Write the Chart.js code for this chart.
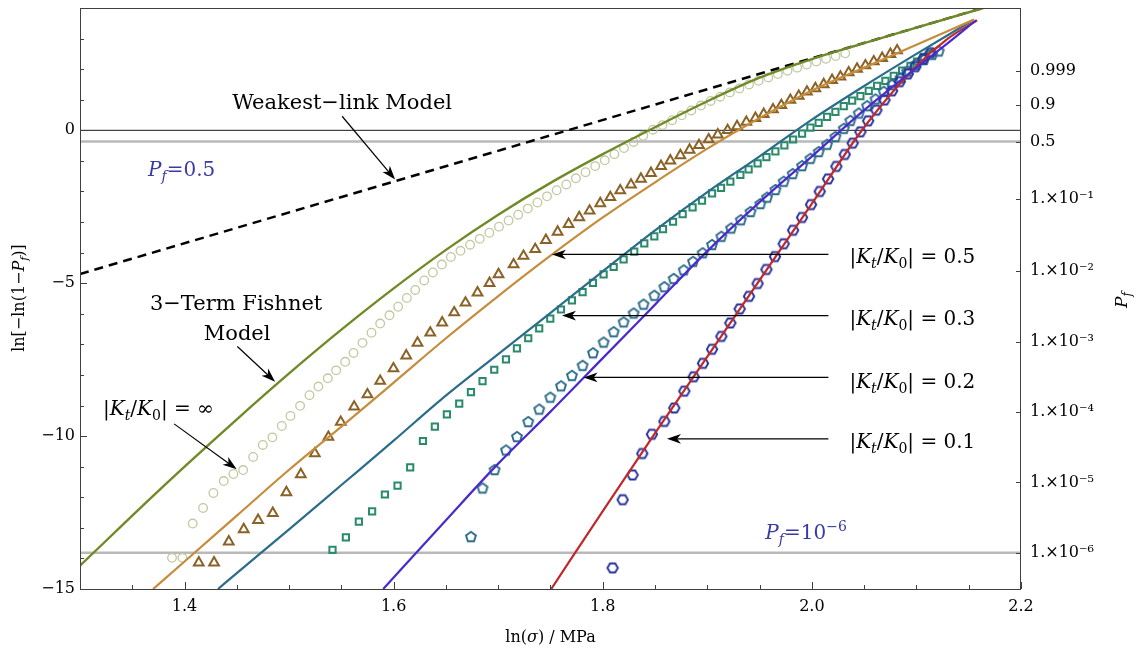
<!DOCTYPE html>
<html><head><meta charset="utf-8">
<script src="https://cdn.jsdelivr.net/npm/chart.js@4.4.1/dist/chart.umd.min.js"></script>
<style>html,body{margin:0;padding:0;background:#fff;}canvas{display:block}</style>
</head><body><canvas id="c" width="1138" height="651"></canvas>
<script>
// ---------- axes ----------
const xRange = [1.3, 2.2];
const yRange = [-15, 4];
const xMajorTicks = [1.4, 1.6, 1.8, 2.0, 2.2];
const yMajorTicks = [-15, -10, -5, 0];
const pfTicks = [1e-6, 1e-5, 1e-4, 1e-3, 1e-2, 1e-1, 0.5, 0.9, 0.999];
const pfTickLabels = ['1.×10⁻⁶','1.×10⁻⁵','1.×10⁻⁴','1.×10⁻³','1.×10⁻²','1.×10⁻¹','0.5','0.9','0.999'];
const pfRefLevels = [0.5, 1e-6];

// ---------- model curves ----------
const weakX = [1.3, 2.1635];
const weakY = [-4.7, 4.0];

const fish3X = [1.30,1.35,1.40,1.45,1.50,1.55,1.60,1.65,1.70,1.75,1.80,1.85,1.90,1.95,2.00,2.05,2.10,2.164];
const fish3Y = [-14.24,-12.6,-11.0,-9.45,-7.95,-6.52,-5.17,-3.91,-2.76,-1.72,-0.78,0.1,0.95,1.72,2.33,2.85,3.36,4.0];

const k05X = [1.3699,1.40,1.45,1.50,1.5552,1.60,1.65,1.70,1.75,1.80,1.85,1.90,1.95,2.00,2.05,2.10,2.155];
const k05Y = [-15,-14.1,-12.6,-11.1,-9.54,-8.25,-6.8,-5.42,-4.1,-2.85,-1.7,-0.6,0.4,1.3,2.05,2.8,3.62];

const k03X = [1.432,1.45,1.50,1.55,1.60,1.6445,1.70,1.75,1.80,1.85,1.90,1.95,2.00,2.05,2.10,2.155];
const k03Y = [-15,-14.48,-13.05,-11.6,-10.15,-8.83,-7.32,-5.97,-4.61,-3.27,-2.02,-0.85,0.35,1.45,2.5,3.62];

const k02X = [1.59,1.65,1.70,1.75,1.80,1.85,1.90,1.95,2.00,2.05,2.10,2.13,2.157];
const k02Y = [-15,-12.75,-10.9,-9.2,-7.45,-5.7,-3.95,-2.35,-0.85,0.66,2.05,2.85,3.6];

const k01X = [1.7507,1.80,1.85,1.90,1.95,2.00,2.05,2.10,2.13,2.158];
const k01Y = [-15,-12.45,-9.9,-7.4,-4.9,-2.4,0.1,2.1,3.0,3.6];

// ---------- simulation markers ----------
const infX = [1.388,1.398,1.4078,1.4177,1.4276,1.4375,1.4467,1.456,1.4656,1.4748,1.484,1.493,1.5013,1.5105,1.5195,1.528,1.537,1.545,1.5536,1.5616,1.5702,1.5788,1.5871,1.596,1.6043,1.6126,1.6206,1.6292,1.6375,1.6461,1.6547,1.6639,1.6731,1.6823,1.6915,1.7007,1.7099,1.7191,1.7283,1.7375,1.7467,1.7559,1.7651,1.7743,1.7835,1.7927,1.8019,1.8111,1.8203,1.8295,1.8387,1.8479,1.8571,1.8663,1.8755,1.8847,1.8939,1.9031,1.9123,1.9215,1.9307,1.9399,1.9491,1.9583,1.9675,1.9767,1.9859,1.9951,2.0043,2.0135,2.0227,2.0319];
const infY = [-13.98,-13.98,-12.86,-12.35,-11.86,-11.47,-11.24,-11.11,-10.68,-10.29,-10.04,-9.67,-9.34,-9.01,-8.66,-8.38,-8.11,-7.85,-7.57,-7.28,-6.95,-6.62,-6.32,-6.05,-5.77,-5.48,-5.22,-4.91,-4.65,-4.39,-4.14,-3.94,-3.74,-3.55,-3.35,-3.15,-2.95,-2.76,-2.56,-2.36,-2.16,-1.96,-1.77,-1.57,-1.37,-1.17,-0.98,-0.78,-0.58,-0.38,-0.18,0.02,0.17,0.33,0.49,0.65,0.81,0.96,1.10,1.24,1.37,1.50,1.62,1.73,1.84,1.95,2.05,2.15,2.25,2.34,2.43,2.52];

const t05X = [1.4136,1.4282,1.4423,1.4566,1.4703,1.4844,1.4974,1.5112,1.5246,1.5376,1.5494,1.5622,1.5749,1.5871,1.5998,1.612,1.6228,1.635,1.6464,1.6579,1.6687,1.6802,1.6917,1.7003,1.7147,1.7242,1.7354,1.7456,1.7568,1.7673,1.7775,1.7874,1.7976,1.8072,1.8167,1.827,1.8365,1.8461,1.8557,1.8646,1.8742,1.883,1.892,1.9013,1.910,1.9194,1.9284,1.9373,1.946,1.9539,1.9628,1.9708,1.9794,1.9874,1.9953,2.0033,2.0113,2.0193,2.0273,2.0352,2.0432,2.0512,2.0592,2.0672,2.0751,2.0815];
const t05Y = [-14.14,-14.14,-13.45,-13.05,-12.75,-12.52,-11.84,-11.25,-10.57,-10.03,-9.54,-9.04,-8.64,-8.2,-7.79,-7.37,-6.95,-6.62,-6.29,-5.96,-5.64,-5.31,-5.0,-4.71,-4.39,-4.11,-3.89,-3.59,-3.32,-3.07,-2.85,-2.63,-2.39,-2.19,-1.97,-1.78,-1.59,-1.40,-1.17,-0.99,-0.82,-0.64,-0.49,-0.30,-0.14,0.0,0.13,0.27,0.40,0.53,0.68,0.82,0.99,1.12,1.26,1.37,1.50,1.64,1.75,1.89,2.01,2.12,2.25,2.36,2.49,2.61];

const s03X = [1.5415,1.5543,1.5667,1.5794,1.5916,1.6037,1.6158,1.628,1.6394,1.6509,1.6627,1.6739,1.685,1.6962,1.7074,1.7179,1.7287,1.7392,1.7498,1.76,1.7705,1.7807,1.7906,1.8008,1.8104,1.8199,1.8301,1.8397,1.8493,1.8576,1.8672,1.8764,1.8859,1.8949,1.9045,1.9131,1.922,1.9316,1.9395,1.9481,1.9565,1.9651,1.9737,1.982,1.9906,1.9986,2.0065,2.0145,2.0225,2.0305,2.0385,2.0464,2.0544,2.0624,2.0703,2.0783,2.0863,2.0943,2.1006,2.107,2.1134];
const s03Y = [-13.72,-13.31,-12.80,-12.46,-11.91,-11.62,-11.02,-10.16,-9.69,-9.29,-8.94,-8.56,-8.20,-7.83,-7.49,-7.13,-6.80,-6.48,-6.16,-5.86,-5.56,-5.29,-4.99,-4.71,-4.47,-4.22,-3.97,-3.70,-3.47,-3.23,-2.99,-2.74,-2.52,-2.30,-2.06,-1.88,-1.68,-1.46,-1.28,-1.08,-0.88,-0.69,-0.49,-0.30,-0.11,0.09,0.24,0.44,0.60,0.79,0.97,1.12,1.29,1.45,1.62,1.78,1.95,2.11,2.25,2.40,2.52];

const p02X = [1.6739,1.685,1.6965,1.7074,1.7179,1.7287,1.7392,1.7498,1.76,1.7705,1.7807,1.7906,1.8008,1.8104,1.8199,1.8295,1.839,1.8493,1.8589,1.8678,1.8774,1.8863,1.8955,1.9045,1.9134,1.9227,1.932,1.9413,1.9507,1.9571,1.9651,1.973,1.9816,1.9906,1.9986,2.0065,2.0145,2.0225,2.0305,2.0368,2.0448,2.0528,2.0608,2.0687,2.0767,2.0847,2.0911,2.099,2.107,2.115,2.1213];
const p02Y = [-13.30,-11.71,-11.11,-10.47,-10.03,-9.54,-9.13,-8.74,-8.37,-8.03,-7.70,-7.29,-6.94,-6.60,-6.28,-5.99,-5.70,-5.41,-5.13,-4.86,-4.58,-4.30,-4.02,-3.75,-3.48,-3.21,-2.94,-2.67,-2.41,-2.20,-1.95,-1.68,-1.43,-1.17,-0.93,-0.71,-0.47,-0.22,0.05,0.31,0.55,0.79,1.01,1.26,1.48,1.70,1.92,2.14,2.30,2.47,2.58];

const h01X = [1.8094,1.819,1.8285,1.8378,1.847,1.8589,1.8684,1.878,1.8869,1.8958,1.9045,1.9134,1.922,1.9309,1.9399,1.9481,1.9565,1.9647,1.973,1.982,1.9906,1.9992,2.0075,2.0155,2.0234,2.0314,2.039,2.0464,2.0538,2.0617,2.0694,2.0767,2.084,2.0917,2.099,2.1064,2.1134];
const h01Y = [-14.31,-12.08,-11.27,-10.57,-9.94,-9.52,-9.08,-8.53,-8.06,-7.62,-7.16,-6.74,-6.30,-5.84,-5.43,-5.01,-4.55,-4.13,-3.71,-3.27,-2.85,-2.43,-2.0,-1.59,-1.18,-0.79,-0.42,-0.05,0.31,0.66,0.99,1.29,1.59,1.84,2.08,2.33,2.54];

// ---------- styling ----------
const FONT = '"DejaVu Serif", "Liberation Serif", serif';
const BLUE = '#3a3aa6';
const xMinorStep = 0.05, yMinorStep = 1;

const lnPf = p => Math.log(-Math.log(1 - p));
const pts = (xs, ys) => xs.map((x, i) => ({x, y: ys[i]}));

function polyImage(n, r, color, lw, rot) {
  const s = Math.ceil(2 * r + lw + 3);
  const c = document.createElement('canvas'); c.width = s; c.height = s;
  const g = c.getContext('2d');
  g.strokeStyle = color; g.lineWidth = lw; g.lineJoin = 'miter';
  g.beginPath();
  for (let i = 0; i < n; i++) {
    const a = rot + i * 2 * Math.PI / n;
    const px = s / 2 + r * Math.sin(a), py = s / 2 - r * Math.cos(a);
    i ? g.lineTo(px, py) : g.moveTo(px, py);
  }
  g.closePath(); g.stroke();
  return c;
}
const pentImg = polyImage(5, 5.2, '#2c6c8a', 1.9, 0);
const hexImg = polyImage(6, 5.2, '#28339a', 1.9, Math.PI / 6);

function lineDS(xs, ys, color, width, order, extra) {
  return Object.assign({data: pts(xs, ys), showLine: true, borderColor: color, borderWidth: width,
    pointRadius: 0, cubicInterpolationMode: 'monotone', fill: false, order}, extra || {});
}
function markDS(xs, ys, style, color, radius, width, order) {
  return {data: pts(xs, ys), showLine: false, pointStyle: style, pointRadius: radius,
    borderColor: color, backgroundColor: 'rgba(0,0,0,0)', pointBorderWidth: width, borderWidth: width, order};
}

// ---------- annotations (data coordinates) ----------
const KT = [{t: '|'}, {t: 'K', i: 1}, {t: 't', i: 1, sub: 1}, {t: '/'}, {t: 'K', i: 1}, {t: '0', sub: 1}];
const texts = [
  {x: 1.5507, y: 0.69, align: 'center', size: 21, color: '#000', segs: [{t: 'Weakest−link Model'}]},
  {x: 1.3651, y: -1.51, align: 'left', size: 20, color: BLUE, segs: [{t: 'P', i: 1}, {t: 'f', i: 1, sub: 1}, {t: '=0.5'}]},
  {x: 1.4493, y: -5.87, align: 'center', size: 21, color: '#000', segs: [{t: '3−Term Fishnet'}]},
  {x: 1.4503, y: -6.85, align: 'center', size: 21, color: '#000', segs: [{t: 'Model'}]},
  {x: 1.322, y: -9.31, align: 'left', size: 20, color: '#000', segs: [...KT, {t: '| = ∞'}]},
  {x: 2.0359, y: -4.34, align: 'left', size: 20, color: '#000', segs: [...KT, {t: '| = 0.5'}]},
  {x: 2.0359, y: -6.38, align: 'left', size: 20, color: '#000', segs: [...KT, {t: '| = 0.3'}]},
  {x: 2.0359, y: -8.42, align: 'left', size: 20, color: '#000', segs: [...KT, {t: '| = 0.2'}]},
  {x: 2.0359, y: -10.39, align: 'left', size: 20, color: '#000', segs: [...KT, {t: '| = 0.1'}]},
  {x: 1.9555, y: -13.38, align: 'left', size: 20, color: BLUE, segs: [{t: 'P', i: 1}, {t: 'f', i: 1, sub: 1}, {t: '=10'}, {t: '−6', sup: 1}]}
];
const arrows = [
  {from: [1.5507, 0.46], to: [1.6014, -1.61]},
  {from: [1.4505, -7.07], to: [1.4866, -8.22]},
  {from: [1.39, -9.6], to: [1.4499, -11.08]},
  {from: [2.0158, -4.06], to: [1.7514, -4.06]},
  {from: [2.0158, -6.06], to: [1.761, -6.06]},
  {from: [2.0158, -8.08], to: [1.7816, -8.08]},
  {from: [2.0158, -10.09], to: [1.8614, -10.09]}
];

function drawRich(ctx, segs, x, y, align, size, color) {
  const fontFor = s => `${s.i ? 'italic ' : ''}${(s.sub || s.sup) ? Math.round(size * 0.7) : size}px ${FONT}`;
  let total = 0;
  const ws = segs.map(s => { ctx.font = fontFor(s); const w = ctx.measureText(s.t).width; total += w; return w; });
  let cx = align === 'center' ? x - total / 2 : align === 'right' ? x - total : x;
  ctx.textAlign = 'left'; ctx.textBaseline = 'alphabetic'; ctx.fillStyle = color;
  segs.forEach((s, i) => {
    ctx.font = fontFor(s);
    const dy = s.sub ? size * 0.24 : s.sup ? -size * 0.4 : 0;
    ctx.fillText(s.t, cx, y + dy);
    cx += ws[i];
  });
}
function drawArrow(ctx, x1, y1, x2, y2) {
  const ang = Math.atan2(y2 - y1, x2 - x1), L = 14, W = 4.8;
  const bx = x2 - L * Math.cos(ang), by = y2 - L * Math.sin(ang);
  ctx.strokeStyle = '#000'; ctx.lineWidth = 1.2;
  ctx.beginPath(); ctx.moveTo(x1, y1); ctx.lineTo(x2 - 8 * Math.cos(ang), y2 - 8 * Math.sin(ang)); ctx.stroke();
  const nx = -Math.sin(ang), ny = Math.cos(ang);
  const mx = x2 - 0.72 * L * Math.cos(ang), my = y2 - 0.72 * L * Math.sin(ang);
  ctx.fillStyle = '#000';
  ctx.beginPath(); ctx.moveTo(x2, y2); ctx.lineTo(bx + nx * W, by + ny * W); ctx.lineTo(mx, my); ctx.lineTo(bx - nx * W, by - ny * W); ctx.closePath(); ctx.fill();
}

const decor = {
  id: 'decor',
  afterDatasetsDraw(chart) {
    const {ctx, chartArea: a, scales: {x, y}} = chart;
    ctx.save();
    ctx.strokeStyle = '#404040'; ctx.lineWidth = 1;
    ctx.strokeRect(Math.round(a.left) + 0.5, Math.round(a.top) + 0.5, Math.round(a.right - a.left) - 1, Math.round(a.bottom - a.top));
    ctx.beginPath();
    for (let v = yRange[0]; v <= yRange[1] + 1e-9; v += yMinorStep) {
      const py = Math.round(y.getPixelForValue(v)) + 0.5;
      const len = yMajorTicks.includes(v) ? 7 : 4;
      ctx.moveTo(a.left, py); ctx.lineTo(a.left + len, py);
    }
    const nX = Math.round((xRange[1] - xRange[0]) / xMinorStep);
    for (let i = 0; i <= nX; i++) {
      const v = xRange[0] + i * xMinorStep;
      const px = Math.round(x.getPixelForValue(v)) + 0.5;
      const major = xMajorTicks.some(m => Math.abs(m - v) < 1e-6);
      ctx.moveTo(px, a.bottom); ctx.lineTo(px, a.bottom - (major ? 7 : 4));
    }
    pfTicks.forEach(p => {
      const py = Math.round(y.getPixelForValue(lnPf(p))) + 0.5;
      ctx.moveTo(a.right - 5, py); ctx.lineTo(a.right, py);
    });
    ctx.stroke();
    arrows.forEach(ar => drawArrow(ctx, x.getPixelForValue(ar.from[0]), y.getPixelForValue(ar.from[1]),
      x.getPixelForValue(ar.to[0]), y.getPixelForValue(ar.to[1])));
    texts.forEach(t => drawRich(ctx, t.segs, x.getPixelForValue(t.x), y.getPixelForValue(t.y), t.align, t.size, t.color));
    drawRich(ctx, [{t: 'ln('}, {t: 'σ', i: 1}, {t: ') / MPa'}], (a.left + a.right) / 2, 642, 'center', 16, '#000');
    ctx.save(); ctx.translate(24, 298); ctx.rotate(-Math.PI / 2);
    drawRich(ctx, [{t: 'ln[−ln(1−'}, {t: 'P', i: 1}, {t: 'f', i: 1, sub: 1}, {t: ')]'}], 0, 0, 'center', 16, '#000');
    ctx.restore();
    ctx.save(); ctx.translate(1127, 300); ctx.rotate(-Math.PI / 2);
    drawRich(ctx, [{t: 'P', i: 1}, {t: 'f', i: 1, sub: 1}], 0, 0, 'center', 17, '#000');
    ctx.restore();
    ctx.restore();
  }
};

const datasets = [
  lineDS(xRange, [0, 0], '#1a1a1a', 1, 90, {cubicInterpolationMode: 'default'}),
  ...pfRefLevels.map(p => lineDS(xRange, [lnPf(p), lnPf(p)], '#b9b9b9', 2.6, 95, {cubicInterpolationMode: 'default'})),
  markDS(infX, infY, 'circle', '#c2c8a0', 4.3, 1.3, 60),
  markDS(t05X, t05Y, 'triangle', '#8a6226', 5.6, 2, 59),
  markDS(s03X, s03Y, 'rect', '#2a8a6c', 4.4, 2, 58),
  markDS(p02X, p02Y, pentImg, '#2c6c8a', 5, 1.9, 57),
  markDS(h01X, h01Y, hexImg, '#28339a', 5, 1.9, 56),
  lineDS(weakX, weakY, '#000', 2.5, 30, {borderDash: [9, 6], cubicInterpolationMode: 'default'}),
  lineDS(fish3X, fish3Y, '#6f8a26', 2.4, 10),
  lineDS(k05X, k05Y, '#c68c3c', 2.2, 11),
  lineDS(k03X, k03Y, '#2a6d88', 2.2, 12),
  lineDS(k02X, k02Y, '#4a2acc', 2.2, 13),
  lineDS(k01X, k01Y, '#c0282a', 2.2, 14)
];

const noPadV = s => { s.paddingTop = 0; s.paddingBottom = 0; };

new Chart(document.getElementById('c'), {
  type: 'scatter',
  data: {datasets},
  options: {
    responsive: false, animation: false, events: [],
    devicePixelRatio: 1,
    layout: {padding: {top: 8, left: 0, right: 0, bottom: 0}},
    plugins: {legend: {display: false}, tooltip: {enabled: false}},
    scales: {
      x: {
        type: 'linear', position: 'bottom', min: xRange[0], max: xRange[1],
        grid: {display: false, drawTicks: false}, border: {display: false},
        afterBuildTicks: s => { s.ticks = xMajorTicks.map(v => ({value: v})); },
        afterFit: s => { s.height = 62; s.paddingLeft = 0; s.paddingRight = 0; },
        ticks: {autoSkip: false, maxRotation: 0, padding: 8, color: '#000', font: {family: FONT, size: 16},
          callback: v => Number(v).toFixed(1)}
      },
      y: {
        type: 'linear', position: 'left', min: yRange[0], max: yRange[1],
        grid: {display: false, drawTicks: false}, border: {display: false},
        afterBuildTicks: s => { s.ticks = yMajorTicks.map(v => ({value: v})); },
        afterFit: s => { s.width = 80; noPadV(s); },
        ticks: {autoSkip: false, padding: 5, color: '#000', font: {family: FONT, size: 16},
          callback: v => v < 0 ? '−' + Math.abs(v) : String(v)}
      },
      y2: {
        type: 'linear', position: 'right', min: yRange[0], max: yRange[1],
        grid: {display: false, drawTicks: false}, border: {display: false},
        afterBuildTicks: s => { s.ticks = pfTicks.map(p => ({value: lnPf(p)})); },
        afterFit: s => { s.width = 117; noPadV(s); },
        ticks: {autoSkip: false, padding: 9, color: '#000', font: {family: FONT, size: 16},
          callback: (v, i) => pfTickLabels[i]}
      }
    }
  },
  plugins: [decor]
});
</script>
</body></html>
